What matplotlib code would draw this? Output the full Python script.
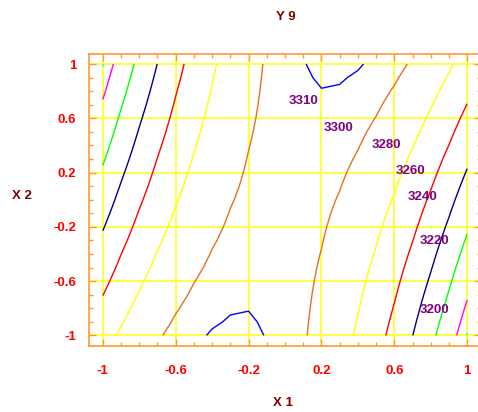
import matplotlib
matplotlib.use("Agg")
import matplotlib.pyplot as plt
import numpy as np

# fitted response surface for Y9 in coded units
b0 = 3306.0
b11 = -75.5
b22 = 0.3
b12 = 41.5

levels = [3190, 3200, 3220, 3240, 3260, 3280, 3300, 3310]
level_colors = ["#00FFFF", "#FF00FF", "#00FF00", "#000080",
                "#FF0000", "#FFFF00", "#E8701A", "#0000FF"]

labelled = [3310, 3300, 3280, 3260, 3240, 3220, 3200]
label_xy = [(0.100, 0.726), (0.296, 0.532), (0.558, 0.404), (0.688, 0.213),
            (0.754, 0.021), (0.821, -0.303), (0.821, -0.812)]

ticks = [-1, -0.6, -0.2, 0.2, 0.6, 1]
tick_labels = ["-1", "-0.6", "-0.2", "0.2", "0.6", "1"]

FONT = "Liberation Sans"
LIM = 1.076

fig = plt.figure(figsize=(4.78, 4.12), dpi=100)
ax = fig.add_axes([89 / 478, 66.3 / 412, 392 / 478, 292 / 412])

# the software evaluates the model on a 0.1 grid
x1 = np.linspace(-1, 1, 21)
x2 = np.linspace(-1, 1, 21)
X1, X2 = np.meshgrid(x1, x2)
Z = b0 + b11 * X1 ** 2 + b22 * X2 ** 2 + b12 * X1 * X2

ax.contour(X1, X2, Z, levels=levels, colors=level_colors, linewidths=1.0, zorder=3)

for lev, (lx, ly) in zip(labelled, label_xy):
    ax.text(lx, ly, str(lev), color="#800080", fontsize=9.5, fontweight="bold",
            family=FONT, ha="center", va="center", zorder=4)

for t in ticks:
    ax.axvline(t, color="#FFFF40", lw=1.4, zorder=1)
    ax.axhline(t, color="#FFFF40", lw=1.4, zorder=1)

ax.set_xlim(-LIM, LIM)
ax.set_ylim(-LIM, LIM)
ax.set_xticks(ticks)
ax.set_yticks(ticks)
ax.set_xticks(np.arange(-1, 1.01, 0.1), minor=True)
ax.set_yticks(np.arange(-1, 1.01, 0.1), minor=True)
ax.set_xticklabels(tick_labels)
ax.set_yticklabels(tick_labels)

for s in ax.spines.values():
    s.set_color("#FF9933")
    s.set_linewidth(1.2)

ax.tick_params(which="both", direction="in", top=True, right=True, color="#FF9933", width=1.0)
ax.tick_params(which="major", length=5)
ax.tick_params(which="minor", length=3)
ax.tick_params(axis="x", pad=14)
ax.tick_params(axis="y", pad=9)
for lab in ax.get_xticklabels() + ax.get_yticklabels():
    lab.set_color("#FF0000")
    lab.set_fontweight("bold")
    lab.set_family(FONT)
    lab.set_fontsize(9.5)

fig.text(285.5 / 478, 1 - 17 / 412, "Y 9", color="#800000", fontsize=9.5,
         fontweight="bold", family=FONT, ha="center", va="center")
fig.text(283 / 478, 1 - 402.5 / 412, "X 1", color="#800000", fontsize=9.5,
         fontweight="bold", family=FONT, ha="center", va="center")
fig.text(22 / 478, 1 - 196 / 412, "X 2", color="#800000", fontsize=9.5,
         fontweight="bold", family=FONT, ha="center", va="center")

fig.savefig("out.png", dpi=100)
